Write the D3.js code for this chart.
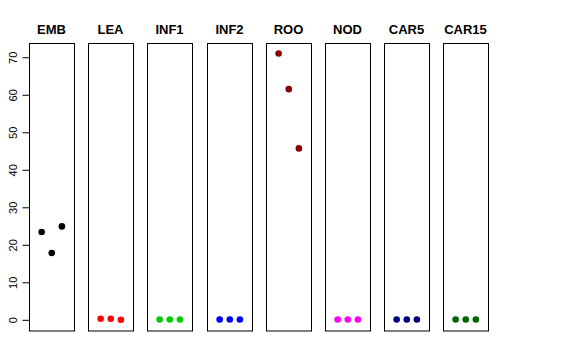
<!DOCTYPE html>
<html>
<head>
<meta charset="utf-8">
<script src="https://cdn.jsdelivr.net/npm/d3@7"></script>
<style>
  body { margin: 0; background: #fff; }
  text { font-family: "Liberation Sans", Arial, sans-serif; }
</style>
</head>
<body>
<div id="chart"></div>
<script>
const tissues = ['EMB', 'LEA', 'INF1', 'INF2', 'ROO', 'NOD', 'CAR5', 'CAR15'];
const colors = ['#000000', '#ff0000', '#00cd00', '#0000ff', '#8b0000', '#ff00ff', '#000080', '#006400'];
const EMB = [23.4, 17.8, 24.9];
const LEA = [0.3, 0.3, 0];
const INF1 = [0.1, 0.1, 0.1];
const INF2 = [0.1, 0.1, 0.1];
const ROO = [71.0, 61.5, 45.7];
const NOD = [0.1, 0.1, 0.1];
const CAR5 = [0.1, 0.1, 0.1];
const CAR15 = [0.1, 0.1, 0.1];
const values = [EMB, LEA, INF1, INF2, ROO, NOD, CAR5, CAR15];
const yTicks = [0, 10, 20, 30, 40, 50, 60, 70];

const width = 576, height = 360;
const plotTop = 43, plotBottom = 330.5;

const svg = d3.select('#chart').append('svg')
  .attr('width', width)
  .attr('height', height);

const y = d3.scaleLinear().domain([-2.85, 73.8]).range([plotBottom, plotTop]);

const panel = d3.scaleBand()
  .domain(tissues)
  .range([29, 488])
  .paddingInner(0.248)
  .paddingOuter(0);

const px = d3.scalePoint().domain([0, 1, 2]).range([0, panel.bandwidth()]).padding(1.2);

// y axis on the first panel
const axis = svg.append('g')
  .attr('transform', `translate(${Math.round(panel('EMB')) + 0.5},0)`)
  .call(d3.axisLeft(y).tickValues(yTicks).tickSize(7).tickSizeOuter(0).tickPadding(0));
axis.select('.domain').remove();
axis.selectAll('.tick text')
  .attr('font-size', 11)
  .attr('font-family', '"Liberation Sans", Arial, sans-serif')
  .attr('text-anchor', 'middle')
  .attr('transform', 'translate(-13,0) rotate(-90)')
  .attr('x', 0)
  .attr('dy', 0);

tissues.forEach((t, i) => {
  const x0 = Math.round(panel(t));
  const w = Math.round(panel.bandwidth());
  const g = svg.append('g').attr('transform', `translate(${x0},0)`);

  g.append('rect')
    .attr('x', 0.5)
    .attr('y', plotTop + 0.5)
    .attr('width', w)
    .attr('height', plotBottom - plotTop)
    .attr('fill', 'none')
    .attr('stroke', '#000')
    .attr('stroke-width', 1);

  g.append('text')
    .attr('x', w / 2)
    .attr('y', 34)
    .attr('text-anchor', 'middle')
    .attr('font-size', 13)
    .attr('font-weight', 'bold')
    .text(t);

  g.selectAll('circle')
    .data(values[i])
    .enter().append('circle')
    .attr('cx', (d, j) => px(j) + 0.5)
    .attr('cy', d => y(d))
    .attr('r', 3.3)
    .attr('fill', colors[i]);
});
</script>
</body>
</html>
